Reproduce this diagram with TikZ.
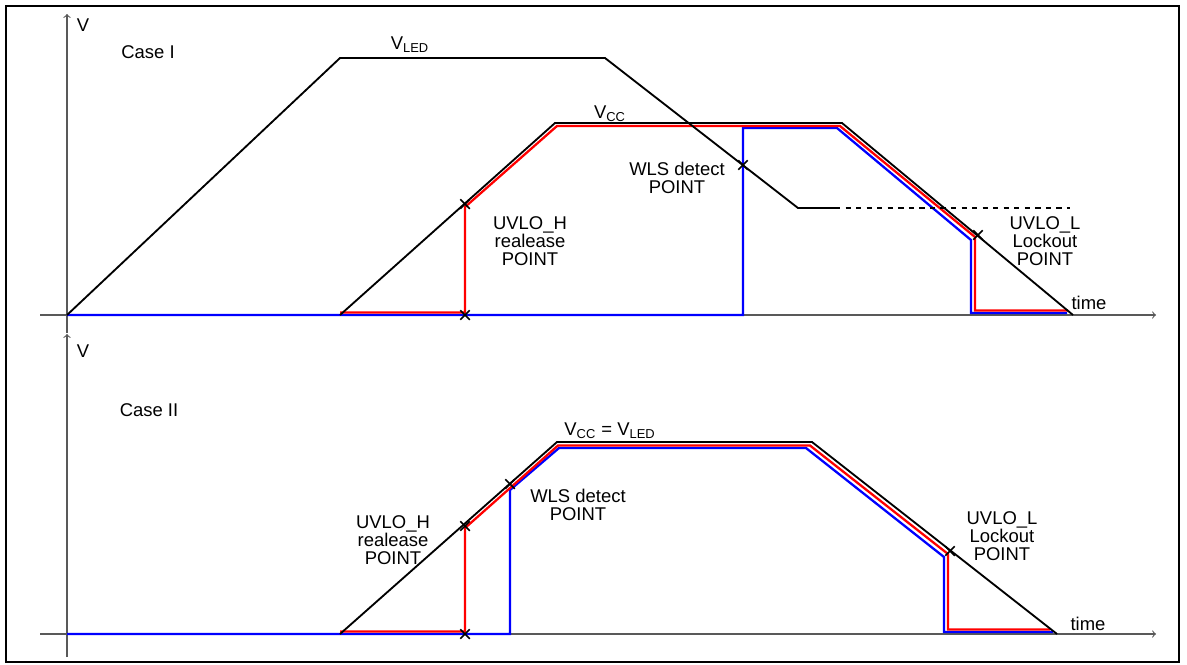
\documentclass[tikz,border=0pt]{standalone}
\usepackage{fontspec}
\setmainfont{Liberation Sans}
\usetikzlibrary{shapes.misc}

\begin{document}
\begin{tikzpicture}[x=0.02cm, y=-0.02cm,
    axis/.style={draw=black!65, line width=0.6pt, ->},
    vline/.style={draw=black, line width=1.05pt, line join=miter},
    redline/.style={draw=red, line width=1.3pt},
    blueline/.style={draw=blue, line width=1.3pt},
    lbl/.style={font=\fontsize{10.5}{10.3}\selectfont, align=center, inner sep=0pt},
    xpoint/.style={cross out, draw=black, line width=0.9pt, minimum size=4.5pt, inner sep=0pt}]

    \useasboundingbox (0,0) rectangle (1187,664);

    % Frame
    \draw[line width=1.5pt] (6,6) rectangle (1179,662);

    %% Case I
    \begin{scope}
        % Axes
        \draw[axis] (67,333) -- (67,14);
        \draw[axis] (40,315) -- (1156,315);
        \node[lbl] (vax1) at (83,25) {V};
        \node[lbl] (time1) at (1089,303) {time};
        \node[lbl] (case1) at (148,52) {Case I};

        % WLS output
        \draw[blueline] (67,315) -- (743,315) -- (743,128) -- (837,128) -- (971,240) -- (971,313) -- (1067,313);

        % UVLO output
        \draw[redline] (340,312.5) -- (465,312.5) -- (465,207) -- (557,126) -- (840,126) -- (975,237) -- (975,310.5) -- (1068,310.5);

        % V_LED
        \draw[vline] (67,315) -- (340,58) -- (605,58) -- (798,208) -- (835,208);
        \draw[vline, dashed] (835,208) -- (1070,208);
        \node[lbl] (vled1) at (410,45) {V\textsubscript{LED}};

        % V_CC
        \draw[vline] (340,315) -- (555,123) -- (842,123) -- (1073,315);
        \node[lbl] (vcc1) at (610,114) {V\textsubscript{CC}};

        % Points
        \node[xpoint] (uvh1) at (465,204) {};
        \node[xpoint] (uvh1b) at (465,315) {};
        \node[xpoint] (wls1) at (743,165) {};
        \node[xpoint] (uvl1) at (978,235) {};
        \node[lbl] (uvhtxt1) at (530,241) {UVLO\_H\\realease\\POINT};
        \node[lbl] (wlstxt1) at (677,178) {WLS detect\\POINT};
        \node[lbl] (uvltxt1) at (1045,241) {UVLO\_L\\Lockout\\POINT};
    \end{scope}

    %% Case II
    \begin{scope}
        % Axes
        \draw[axis] (67,657) -- (67,334);
        \draw[axis] (40,634) -- (1156,634);
        \node[lbl] (vax2) at (83,351) {V};
        \node[lbl] (time2) at (1088,624) {time};
        \node[lbl] (case2) at (149,410) {Case II};

        % WLS output
        \draw[blueline] (67,634) -- (510,634) -- (510,490) -- (559,448) -- (806,448) -- (944,557) -- (944,632) -- (1053,632);

        % UVLO output
        \draw[redline] (340,631.5) -- (465,631.5) -- (465,528) -- (558,445.5) -- (810,445.5) -- (948,554) -- (948,629.5) -- (1050,629.5);

        % V_CC = V_LED
        \draw[vline] (340,634) -- (557,442) -- (812,442) -- (1057,634);
        \node[lbl] (vcc2) at (610,431) {V\textsubscript{CC} = V\textsubscript{LED}};

        % Points
        \node[xpoint] (uvh2) at (465,526) {};
        \node[xpoint] (uvh2b) at (465,634) {};
        \node[xpoint] (wls2) at (510,484) {};
        \node[xpoint] (uvl2) at (950,551) {};
        \node[lbl] (uvhtxt2) at (393,540) {UVLO\_H\\realease\\POINT};
        \node[lbl] (wlstxt2) at (578,505) {WLS detect\\POINT};
        \node[lbl] (uvltxt2) at (1002,536) {UVLO\_L\\Lockout\\POINT};
    \end{scope}

\end{tikzpicture}
\end{document}
